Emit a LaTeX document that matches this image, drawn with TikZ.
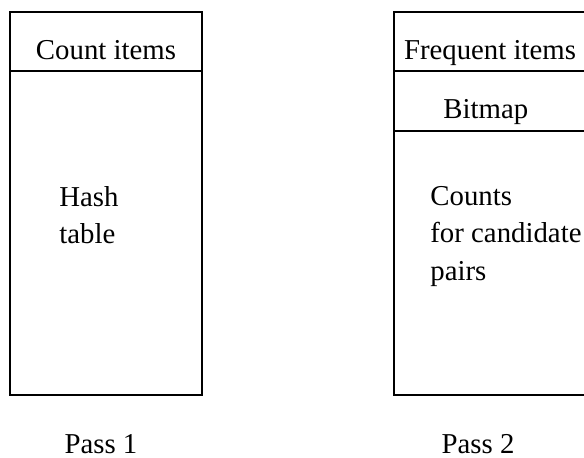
\documentclass[tikz,border=0pt]{standalone}
\usepackage{fontspec}
\setmainfont{Liberation Serif}

\begin{document}
\begin{tikzpicture}[x = 0.5pt, y = -0.5pt,
    memory/.style = {draw, line width = 0.6pt},
    txt/.style = {inner sep = 0pt, font = \fontsize{14.4}{18.75}\selectfont},
    block/.style = {txt, anchor = north west, align = left}]
  \useasboundingbox (0,0) rectangle (584,458);
  \clip (0,0) rectangle (584,458);

  % pass 1: main memory layout
  \draw[memory] (10,12) rectangle (202,395);
  \draw[memory] (10,71) -- (202,71);
  \node[txt, anchor = base] (count) at (106,60) {Count items};
  \node[block] (hash) at (59,186) {Hash\\table};
  \node[txt, anchor = base] (pass1) at (101,454) {Pass 1};

  % pass 2: main memory layout
  \draw[memory] (394,12) rectangle (586,395);
  \draw[memory] (394,71) -- (586,71);
  \draw[memory] (394,131) -- (586,131);
  \node[txt, anchor = base] (freq) at (490,60) {Frequent items};
  \node[txt, anchor = base west] (bitmap) at (443,119) {Bitmap};
  \node[block] (counts) at (430,186) {Counts\\for candidate\\pairs};
  \node[txt, anchor = base] (pass2) at (478,454) {Pass 2};
\end{tikzpicture}
\end{document}
